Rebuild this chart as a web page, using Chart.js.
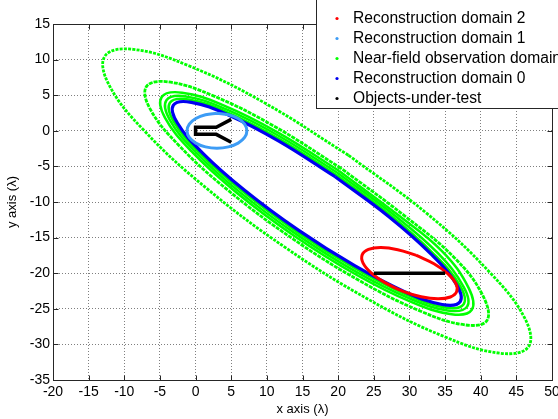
<!DOCTYPE html>
<html>
<head>
<meta charset="utf-8">
<script src="https://cdn.jsdelivr.net/npm/chart.js@4.4.1/dist/chart.umd.min.js"></script>
<style>
  html, body { margin: 0; padding: 0; background: #fff; }
</style>
</head>
<body>
<canvas id="c" width="558" height="419"></canvas>
<script>
// axis ticks (wavelengths)
const xTicks = [-20, -15, -10, -5, 0, 5, 10, 15, 20, 25, 30, 35, 40, 45, 50];
const yTicks = [-35, -30, -25, -20, -15, -10, -5, 0, 5, 10, 15];

// boundary points, [x, y]
const domain2 = [[30.98,-17.49],[28.36,-16.70],[26.01,-16.40],[24.25,-16.66],[23.37,-17.42],[23.50,-18.58],[24.63,-19.95],[26.56,-21.33],[29.02,-22.51],[31.64,-23.30],[33.99,-23.60],[35.75,-23.34],[36.63,-22.58],[36.50,-21.42],[35.37,-20.05],[33.44,-18.67],[30.98,-17.49]];
const domain1 = [[3,2.45],[1.39,2.26],[0.03,1.73],[-0.88,0.94],[-1.2,0],[-0.88,-0.94],[0.03,-1.73],[1.39,-2.26],[3,-2.45],[4.61,-2.26],[5.97,-1.73],[6.88,-0.94],[7.2,0],[6.88,0.94],[5.97,1.73],[4.61,2.26],[3,2.45]];
const domain0 = [[19.58,-6.45],[11.68,-1.45],[4.61,2.22],[-0.59,4.00],[-3.11,3.61],[-2.57,1.13],[0.96,-3.09],[6.92,-8.38],[14.42,-13.95],[22.32,-18.95],[29.39,-22.62],[34.59,-24.40],[37.11,-24.01],[36.57,-21.53],[33.04,-17.31],[27.08,-12.02],[19.58,-6.45]];

// near-field observation ellipses, outer to inner
const nearField1 = [[21.44,-3.43],[9.73,3.89],[-0.87,9.10],[-8.75,11.44],[-12.71,10.51],[-12.16,6.48],[-7.15,-0.04],[1.52,-8.06],[12.56,-16.37],[24.27,-23.69],[34.87,-28.90],[42.75,-31.24],[46.71,-30.31],[46.16,-26.28],[41.15,-19.76],[32.48,-11.64],[21.44,-3.43]];
const nearField2 = [[20.40,-5.26],[10.99,0.66],[2.51,4.90],[-3.78,6.86],[-6.90,6.21],[-6.38,3.07],[-2.30,-2.09],[4.71,-8.48],[13.60,-15.14],[23.01,-21.06],[31.49,-25.30],[37.78,-27.26],[40.90,-26.61],[40.22,-22.99],[36.30,-17.82],[29.29,-11.92],[20.40,-5.26]];
const nearField3 = [[20.14,-5.63],[11.57,-0.25],[3.84,3.60],[-1.90,5.36],[-4.75,4.74],[-4.30,1.86],[-0.60,-2.87],[5.77,-8.70],[13.86,-14.77],[22.43,-20.15],[30.16,-24.00],[35.90,-25.76],[38.75,-25.14],[38.30,-22.06],[34.60,-16.93],[28.23,-11.70],[20.14,-5.63]];
const nearField4 = [[19.94,-5.92],[11.64,-0.69],[4.17,3.07],[-1.36,4.83],[-4.09,4.29],[-3.62,1.55],[0.01,-2.99],[6.20,-8.61],[14.06,-14.48],[22.36,-19.71],[29.83,-23.47],[35.36,-25.23],[38.09,-24.69],[37.62,-21.95],[33.99,-17.19],[27.80,-11.79],[19.94,-5.92]];
const nearField5 = [[19.75,-6.20],[11.65,-1.09],[4.38,2.63],[-0.98,4.41],[-3.60,3.95],[-3.09,1.34],[0.50,-3.02],[6.57,-8.47],[14.25,-14.20],[22.35,-19.31],[29.62,-23.03],[34.98,-24.81],[37.60,-24.35],[37.09,-21.74],[33.50,-17.38],[27.43,-11.93],[19.75,-6.20]];

// objects under test
const objFork = [[5,1.6],[2.9,0.5],[0,0.5],[0,-0.5],[2.9,-0.5],[5,-1.6]];
const objLine = [[25,-20],[35,-20]];

const legendNames = ['Reconstruction domain 2', 'Reconstruction domain 1', 'Near-field observation domain', 'Reconstruction domain 0', 'Objects-under-test'];
const legendColors = ['#ff0000', '#3d9cf5', '#00ff00', '#0000f0', '#000000'];

const FONT = '"Liberation Sans", Arial, sans-serif';
const pts = arr => arr.map(p => ({x: p[0], y: p[1]}));

function curve(arr, color, width, tension, dash) {
  return {
    data: pts(arr), showLine: true, borderColor: color, backgroundColor: color,
    borderWidth: width, borderDash: dash || [], pointRadius: 0, tension: tension, fill: false
  };
}

// dataset 0 is painted last (on top)
const datasets = [
  curve(objFork, '#000000', 3.5, 0),
  curve(objLine, '#000000', 3.5, 0),
  curve(domain2, legendColors[0], 3, 0.4),
  curve(domain1, legendColors[1], 3, 0.4),
  curve(domain0, legendColors[3], 3.2, 0.4),
  curve(nearField5, legendColors[2], 2.5, 0.4),
  curve(nearField4, legendColors[2], 2.5, 0.4),
  curve(nearField3, legendColors[2], 2.5, 0.4),
  curve(nearField2, legendColors[2], 2.8, 0.4, [4, 1]),
  curve(nearField1, legendColors[2], 2.8, 0.4, [3, 1.2])
];

// matlab style box, inward ticks and the legend
const boxPlugin = {
  id: 'box',
  afterDraw(chart) {
    const {ctx, chartArea: a, scales: {x, y}} = chart;
    const L = Math.round(a.left) + 0.5, R = Math.round(a.right) + 0.5;
    const T = Math.round(a.top) + 0.5, B = Math.round(a.bottom) + 0.5;
    ctx.save();
    ctx.strokeStyle = '#262626';
    ctx.lineWidth = 1;
    ctx.beginPath();
    xTicks.forEach(v => {
      const px = Math.round(x.getPixelForValue(v)) + 0.5;
      ctx.moveTo(px, B); ctx.lineTo(px, B - 5);
      ctx.moveTo(px, T); ctx.lineTo(px, T + 5);
    });
    yTicks.forEach(v => {
      const py = Math.round(y.getPixelForValue(v)) + 0.5;
      ctx.moveTo(L, py); ctx.lineTo(L + 5, py);
      ctx.moveTo(R, py); ctx.lineTo(R - 5, py);
    });
    ctx.stroke();
    ctx.strokeRect(L, T, R - L, B - T);

    // legend box runs off the right edge like the original
    ctx.fillStyle = '#ffffff';
    ctx.fillRect(316, -1, 300, 110);
    ctx.strokeRect(316.5, -0.5, 300, 109);
    ctx.font = '15.6px ' + FONT;
    ctx.textBaseline = 'middle';
    legendNames.forEach((name, i) => {
      const ry = 18.5 + i * 20;
      ctx.fillStyle = legendColors[i];
      ctx.beginPath();
      ctx.arc(337, ry, 1.6, 0, Math.PI * 2);
      ctx.fill();
      ctx.fillStyle = '#000000';
      ctx.fillText(name, 353, ry);
    });
    ctx.restore();
  }
};

new Chart(document.getElementById('c'), {
  type: 'scatter',
  data: { datasets: datasets },
  options: {
    responsive: false,
    animation: false,
    devicePixelRatio: 1,
    layout: { padding: { top: 24, right: 6, left: 0, bottom: 0 } },
    plugins: { legend: { display: false }, tooltip: { enabled: false } },
    scales: {
      x: {
        type: 'linear', min: -20, max: 50,
        afterBuildTicks: s => { s.ticks = xTicks.map(v => ({ value: v })); },
        afterFit: s => { s.height = 39; s.paddingLeft = 0; s.paddingRight = 0; },
        ticks: { font: { family: FONT, size: 14 }, color: '#000', padding: 4, maxRotation: 0, autoSkip: false, callback: v => String(v) },
        grid: { color: '#7f7f7f', lineWidth: 1, drawTicks: false },
        border: { display: false, dash: [1, 2] },
        title: { display: true, text: 'x axis (\u03bb)', color: '#000', font: { family: FONT, size: 13 }, padding: { top: 0, bottom: 2 } }
      },
      y: {
        type: 'linear', min: -35, max: 15,
        afterBuildTicks: s => { s.ticks = yTicks.map(v => ({ value: v })); },
        afterFit: s => { s.width = 53; s.paddingTop = 0; s.paddingBottom = 0; },
        ticks: { font: { family: FONT, size: 14 }, color: '#000', padding: 3, autoSkip: false, callback: v => String(v) },
        grid: { color: '#7f7f7f', lineWidth: 1, drawTicks: false },
        border: { display: false, dash: [1, 2] },
        title: { display: true, text: 'y axis (\u03bb)', color: '#000', font: { family: FONT, size: 13 }, padding: { top: 5, bottom: 0 } }
      }
    }
  },
  plugins: [boxPlugin]
});
</script>
</body>
</html>
